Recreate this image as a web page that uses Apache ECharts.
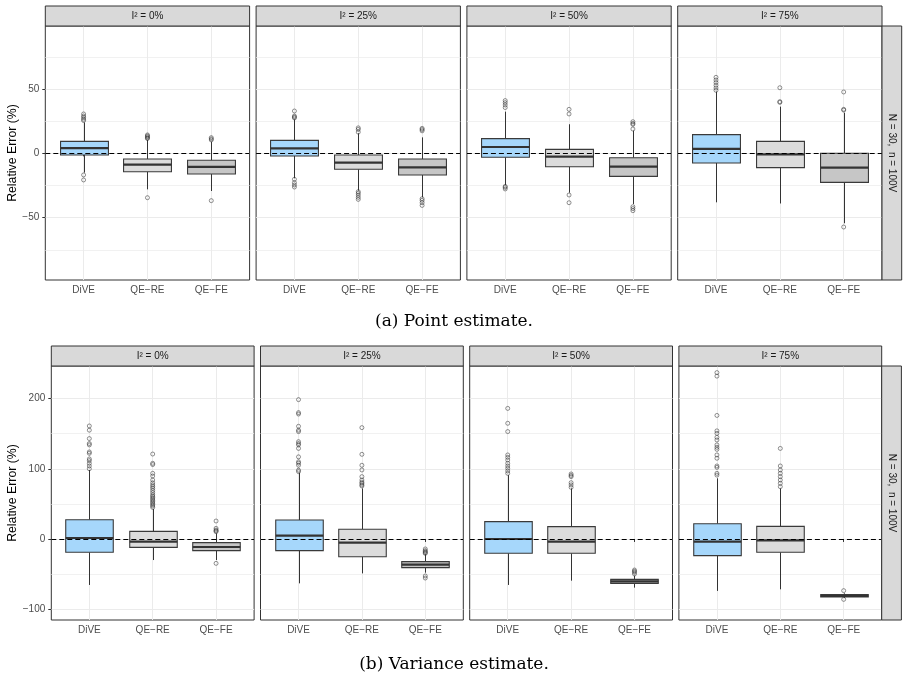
<!DOCTYPE html>
<html>
<head>
<meta charset="utf-8">
<script src="https://cdn.jsdelivr.net/npm/echarts@6/dist/echarts.min.js"></script>
<style>html,body{margin:0;padding:0;background:#fff}#c{width:908px;height:682px}</style>
</head>
<body>
<div id="c"></div>
<script>
// ---------- data ----------
const categories = ['DiVE', 'QE\u2212RE', 'QE\u2212FE'];
const i2Labels = ['I\u00B2 = 0%', 'I\u00B2 = 25%', 'I\u00B2 = 50%', 'I\u00B2 = 75%'];
const rowLabel = 'N = 30,  n = 100V';
const yTitle = 'Relative Error (%)';
const captionA = '(a) Point estimate.';
const captionB = '(b) Variance estimate.';

// box stats per category: [lower whisker, Q1, median, Q3, upper whisker]
const pointBox_I0  = [[-15, -1.3, 4.1, 9.3, 24], [-28, -14.3, -8.8, -4.4, 10.4], [-29.3, -16.1, -10.6, -5.4, 9]];
const pointBox_I25 = [[-19.4, -2.1, 3.9, 10.1, 26.4], [-29, -12.4, -7.3, -1.3, 15.6], [-34.2, -16.8, -10.9, -4.4, 12.4]];
const pointBox_I50 = [[-24.6, -3.1, 4.9, 11.4, 32.4], [-30.6, -10.4, -2.6, 3.1, 22.6], [-39.4, -17.9, -10.4, -3.4, 17.6]];
const pointBox_I75 = [[-38.1, -7.5, 3.4, 14.5, 48], [-39, -11.1, -0.8, 9.3, 36.3], [-54.4, -22.6, -11.1, 0, 31.6]];

const pointOut_I0  = [[30.6, 29, 27.8, 26.5, 25.5, -16.8, -20.7], [14.3, 13.5, 12.8, 12, 11.5, -34.5], [12.2, 11.2, 10.4, -36.8]];
const pointOut_I25 = [[32.9, 29, 28.2, 27.5, -20.2, -22.8, -24.6, -26.2], [19.8, 18.6, 16.5, -29.8, -31, -32.5, -34.2, -35.8], [19.4, 18.5, 17.5, -35.3, -36.6, -38.4, -40.5]];
const pointOut_I50 = [[41, 39.4, 37.6, 35.6, -25.7, -26.5, -27.7], [34.2, 30.6, -32.4, -38.4], [24.6, 23.3, 22.5, 18.9, -41.5, -43, -44.6]];
const pointOut_I75 = [[59.1, 57, 55, 52.9, 50.8, 49], [51, 40.2, 39.6], [47.7, 34.2, 33.6, -57.3]];

const varBox_I0  = [[-65.5, -19, 1.4, 27.5, 98.3], [-30, -11.9, -3.8, 10.9, 42.7], [-30, -16.6, -11.4, -5.2, 8]];
const varBox_I25 = [[-63.2, -16.6, 4.7, 27, 94.5], [-49, -25.2, -5.2, 13.8, 72], [-48, -40.8, -36.6, -32.3, -21.8]];
const varBox_I50 = [[-65.5, -20.4, 0, 24.7, 91], [-59.4, -20.4, -3.8, 17.6, 72], [-69.3, -63.2, -60.3, -57.5, -52.2]];
const varBox_I75 = [[-74, -23.7, -3.8, 21.8, 86.4], [-71.7, -19, -1.9, 18, 72], [-84, -82.6, -81.2, -79.3, -77.4]];

const varOut_I0  = [[161, 155, 143, 136, 134, 124, 122, 114, 111.6, 107.8, 104, 100],
                    [121, 107.8, 106, 93.5, 89.7, 84, 80, 77, 74.5, 72, 69, 66, 63, 61, 59, 57, 55, 53, 51, 49, 47, 45],
                    [25.6, 15.2, 12.8, 11.6, 10.4, -34.7]];
const varOut_I25 = [[198.5, 180, 178, 160.5, 155, 153, 138.6, 136, 134, 129, 117, 110, 108, 105, 98, 96],
                    [158.6, 120.6, 105, 98.3, 88.8, 84, 81, 79.3, 77, 75.5],
                    [-14.2, -16.6, -18, -19.5, -20.5, -52.7, -55.6]];
const varOut_I50 = [[186, 164.8, 153, 119.7, 116.3, 112.5, 107.8, 104, 100.7, 96.9, 93.5],
                    [92.6, 90.5, 88.8, 80.2, 77, 73.6],
                    [-44.2, -46, -47.5, -49.9]];
const varOut_I75 = [[237, 232, 176, 154, 150.5, 144.8, 141, 134, 130.6, 127.7, 119.7, 115, 104, 102, 93.5, 91],
                    [129, 104, 98.3, 93.5, 88.8, 84, 79.3, 74.5],
                    [-73.6, -86]];

const pointMajorTicks = [-50, 0, 50];
const pointMinorTicks = [-75, -25, 25, 75];
const varMajorTicks = [-100, 0, 100, 200];
const varMinorTicks = [-50, 50, 150];
const xPositions = [1, 2, 3];

// ---------- layout / style ----------
const SANS = 'Liberation Sans, Arial, Helvetica, sans-serif';
const SERIF = 'DejaVu Serif, Liberation Serif, serif';
const boxFills = ['#A6D7FB', '#DCDCDC', '#C6C6C6'];
const rows = [
  {lefts: [45.3, 256.1, 466.9, 677.7], width: 204.3, top: 26, height: 254, ymin: -98.5, ymax: 99,
   majors: pointMajorTicks, minors: pointMinorTicks, boxes: [pointBox_I0, pointBox_I25, pointBox_I50, pointBox_I75],
   outs: [pointOut_I0, pointOut_I25, pointOut_I50, pointOut_I75], nameGap: 26, caption: captionA, capY: 322},
  {lefts: [51.3, 260.5, 469.7, 678.9], width: 202.8, top: 366, height: 254, ymin: -115.4, ymax: 246.4,
   majors: varMajorTicks, minors: varMinorTicks, boxes: [varBox_I0, varBox_I25, varBox_I50, varBox_I75],
   outs: [varOut_I0, varOut_I25, varOut_I50, varOut_I75], nameGap: 32, caption: captionB, capY: 665}
];

function fmtNum(v) { return String(v).replace('-', '\u2212'); }

function renderBox(params, api) {
  const x = api.value(0);
  const lo = api.coord([x, api.value(1)]);
  const q1 = api.coord([x, api.value(2)]);
  const md = api.coord([x, api.value(3)]);
  const q3 = api.coord([x, api.value(4)]);
  const hi = api.coord([x, api.value(5)]);
  const w = api.size([0.75, 0])[0];
  const cx = Math.round(lo[0]) + 0.5;
  const fill = boxFills[params.dataIndex];
  const ls = {stroke: '#333333', lineWidth: 1};
  return {type: 'group', children: [
    {type: 'line', shape: {x1: cx, y1: hi[1], x2: cx, y2: q3[1]}, style: ls},
    {type: 'line', shape: {x1: cx, y1: q1[1], x2: cx, y2: lo[1]}, style: ls},
    {type: 'rect', shape: {x: cx - w / 2, y: q3[1], width: w, height: q1[1] - q3[1]}, style: {fill: fill, stroke: '#3a3a3a', lineWidth: 1.1}},
    {type: 'line', shape: {x1: cx - w / 2, y1: md[1], x2: cx + w / 2, y2: md[1]}, style: {stroke: '#333333', lineWidth: 2.2}}
  ]};
}

const grids = [], xAxes = [], yAxes = [], series = [], graphics = [];
let g = 0;
rows.forEach((row) => {
  for (let p = 0; p < 4; p++) {
    const left = row.lefts[p];
    grids.push({left: left, top: row.top, width: row.width, height: row.height,
      show: true, borderColor: '#333333', borderWidth: 1, backgroundColor: 'transparent', containLabel: false});
    xAxes.push({gridIndex: g, type: 'value', min: 0.4, max: 3.6,
      axisLine: {show: false},
      axisTick: {show: true, customValues: xPositions, length: 3, lineStyle: {color: '#333333', width: 1}},
      axisLabel: {show: true, customValues: xPositions, margin: 5, color: '#4D4D4D', fontSize: 10, fontFamily: SANS,
        formatter: (v) => categories[Math.round(v) - 1]},
      splitLine: {show: true, lineStyle: {color: '#EBEBEB', width: 1}}});
    const first = p === 0;
    yAxes.push({gridIndex: g, type: 'value', min: row.ymin, max: row.ymax, position: 'left',
      axisLine: {show: false},
      axisTick: {show: first, customValues: row.majors, length: 3, lineStyle: {color: '#333333', width: 1}},
      axisLabel: {show: first, customValues: row.majors, margin: 6, color: '#4D4D4D', fontSize: 10, fontFamily: SANS,
        formatter: fmtNum},
      splitLine: {show: true, lineStyle: {color: '#EBEBEB', width: 1}},
      name: first ? yTitle : '', nameLocation: 'middle', nameRotate: 90, nameGap: row.nameGap,
      nameTextStyle: {fontSize: 12.3, color: '#000000', fontFamily: SANS}});
    yAxes.push({gridIndex: g, type: 'value', min: row.ymin, max: row.ymax, position: 'left',
      axisLine: {show: false},
      axisTick: {show: false, customValues: row.minors},
      axisLabel: {show: false},
      splitLine: {show: true, lineStyle: {color: '#EDEDED', width: 0.8}}});

    const boxes = row.boxes[p];
    series.push({type: 'custom', xAxisIndex: g, yAxisIndex: 2 * g, z: 2, silent: true,
      data: boxes.map((b, i) => [xPositions[i]].concat(b)),
      renderItem: renderBox});
    const outPts = [];
    row.outs[p].forEach((arr, i) => arr.forEach((v) => outPts.push([xPositions[i], v])));
    series.push({type: 'scatter', xAxisIndex: g, yAxisIndex: 2 * g, z: 3, silent: true,
      data: outPts, symbol: 'circle', symbolSize: 4,
      itemStyle: {color: 'rgba(0,0,0,0)', borderColor: 'rgba(50,50,50,0.75)', borderWidth: 0.9},
      markLine: {silent: true, symbol: ['none', 'none'], label: {show: false}, z: 5,
        lineStyle: {type: [5, 3], color: '#000000', width: 1},
        data: [{yAxis: 0}]}});

    // strip on top
    graphics.push({type: 'rect', shape: {x: left, y: row.top - 20, width: row.width, height: 20},
      style: {fill: '#D9D9D9', stroke: '#333333', lineWidth: 1}, z: 10});
    graphics.push({type: 'text', x: left + row.width / 2, y: row.top - 10, z: 11,
      style: {text: i2Labels[p], fontSize: 10, fontFamily: SANS, fill: '#1A1A1A', align: 'center', verticalAlign: 'middle'}});
    g++;
  }
  // right strip
  const rx = row.lefts[3] + row.width;
  graphics.push({type: 'rect', shape: {x: rx, y: row.top, width: 19.7, height: row.height},
    style: {fill: '#D9D9D9', stroke: '#333333', lineWidth: 1}, z: 10});
  graphics.push({type: 'text', x: rx + 9.85, y: row.top + row.height / 2, rotation: -Math.PI / 2, z: 11,
    style: {text: rowLabel, fontSize: 10, fontFamily: SANS, fill: '#1A1A1A', align: 'center', verticalAlign: 'middle'}});
  // caption
  graphics.push({type: 'text', x: 454, y: row.capY, z: 11,
    style: {text: row.caption, fontSize: 17, fontFamily: SERIF, fill: '#000000', align: 'center', verticalAlign: 'middle'}});
});

const chart = echarts.init(document.getElementById('c'), null, {renderer: 'canvas'});
chart.setOption({
  animation: false,
  backgroundColor: '#ffffff',
  grid: grids,
  xAxis: xAxes,
  yAxis: yAxes,
  series: series,
  graphic: graphics
});
</script>
</body>
</html>
